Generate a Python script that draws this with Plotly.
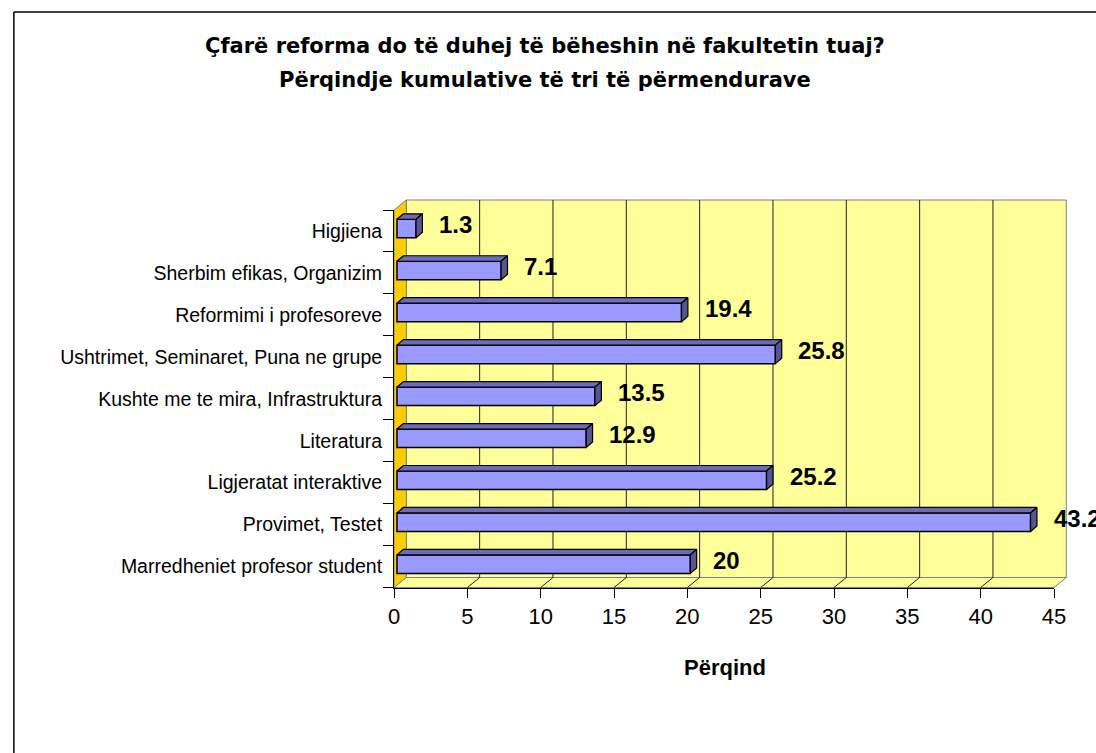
import plotly.graph_objects as go

# ---------------- data ----------------
categories = [
    "Marredheniet profesor student",
    "Provimet, Testet",
    "Ligjeratat interaktive",
    "Literatura",
    "Kushte me te mira, Infrastruktura",
    "Ushtrimet, Seminaret, Puna ne grupe",
    "Reformimi i profesoreve",
    "Sherbim efikas, Organizim",
    "Higjiena",
]
values = [20, 43.2, 25.2, 12.9, 13.5, 25.8, 19.4, 7.1, 1.3]
x_ticks = [0, 5, 10, 15, 20, 25, 30, 35, 40, 45]
title_lines = [
    "Çfarë reforma do të duhej të bëheshin në fakultetin tuaj?",
    "Përqindje kumulative të tri të përmendurave",
]
x_title = "Përqind"

# ---------------- geometry (pixels) ----------------
W, H = 1096, 753
X0, X1 = 394.5, 1065.5          # front plane: value 0 and 45
Y_TOP, Y_BOT = 210.0, 587.5     # front plane top / bottom
WDX, WDY = 12.5, 10.0           # wall depth offset
XMAX = 45
SCALE = (X1 - X0) / XMAX
NCAT = len(categories)
BAND = (Y_BOT - Y_TOP) / NCAT

BDX, BDY = 6.5, 5.5             # bar depth offset
BAR_SHIFT = 3.0 / SCALE          # bar front face shifted right
BAR_YOFF = 2.4 / BAND            # and up
BAR_W = 18.5 / BAND

FONT = "Liberation Sans, Arial, sans-serif"
BAR_COLOR = "#9999FF"
TOP_COLOR = "#6B6BB8"
SIDE_COLOR = "#55558F"


def px(x):
    return x / W


def py(y):
    return 1 - y / H


idx = list(range(NCAT))
ypos = [i + BAR_YOFF for i in idx]

fig = go.Figure()

# front faces
fig.add_trace(go.Bar(
    orientation="h", y=ypos, x=values, base=BAR_SHIFT, width=BAR_W,
    marker=dict(color=BAR_COLOR, line=dict(color="black", width=1.5)),
    hoverinfo="skip", showlegend=False,
))

# 3D top and side faces
ddx = BDX / SCALE
ddy = BDY / BAND
tx, ty, sx, sy = [], [], [], []
for v, yc in zip(values, ypos):
    x0 = BAR_SHIFT
    x1 = BAR_SHIFT + v
    yt = yc + BAR_W / 2
    yb = yc - BAR_W / 2
    tx += [x0, x1, x1 + ddx, x0 + ddx, x0, None]
    ty += [yt, yt, yt + ddy, yt + ddy, yt, None]
    sx += [x1, x1 + ddx, x1 + ddx, x1, x1, None]
    sy += [yb, yb + ddy, yt + ddy, yt, yb, None]

fig.add_trace(go.Scatter(x=tx, y=ty, mode="lines", fill="toself", fillcolor=TOP_COLOR,
                         line=dict(color="black", width=1.2), hoverinfo="skip", showlegend=False))
fig.add_trace(go.Scatter(x=sx, y=sy, mode="lines", fill="toself", fillcolor=SIDE_COLOR,
                         line=dict(color="black", width=1.2), hoverinfo="skip", showlegend=False))

# ---------------- background shapes ----------------
shapes = []
# back wall
shapes.append(dict(type="rect", xref="paper", yref="paper", layer="below",
                   x0=px(X0 + WDX), x1=px(X1 + WDX), y0=py(Y_BOT - WDY), y1=py(Y_TOP - WDY),
                   fillcolor="#FFFF99", line=dict(color="#808080", width=1)))
# left wall
shapes.append(dict(type="path", xref="paper", yref="paper", layer="below",
                   path=(f"M{px(X0)},{py(Y_TOP)} L{px(X0 + WDX)},{py(Y_TOP - WDY)} "
                         f"L{px(X0 + WDX)},{py(Y_BOT - WDY)} L{px(X0)},{py(Y_BOT)} Z"),
                   fillcolor="#FFCC00", line=dict(color="#808080", width=1)))
# floor
shapes.append(dict(type="path", xref="paper", yref="paper", layer="below",
                   path=(f"M{px(X0)},{py(Y_BOT)} L{px(X1)},{py(Y_BOT)} "
                         f"L{px(X1 + WDX)},{py(Y_BOT - WDY)} L{px(X0 + WDX)},{py(Y_BOT - WDY)} Z"),
                   fillcolor="#FFFF99", line=dict(color="#808080", width=1)))
# gridlines on back wall and floor diagonals
for t in x_ticks[1:-1]:
    xb = X0 + t * SCALE
    shapes.append(dict(type="line", xref="paper", yref="paper", layer="below",
                       x0=px(xb + WDX), x1=px(xb + WDX), y0=py(Y_BOT - WDY), y1=py(Y_TOP - WDY),
                       line=dict(color="#202020", width=1)))
    shapes.append(dict(type="line", xref="paper", yref="paper", layer="below",
                       x0=px(xb), x1=px(xb + WDX), y0=py(Y_BOT), y1=py(Y_BOT - WDY),
                       line=dict(color="#202020", width=1)))
# chart border (top and left visible)
shapes.append(dict(type="line", xref="paper", yref="paper", x0=px(8), x1=px(1110), y0=py(12), y1=py(12),
                   line=dict(color="black", width=1.5)))
shapes.append(dict(type="line", xref="paper", yref="paper", x0=px(8), x1=px(8), y0=py(12), y1=py(770),
                   line=dict(color="black", width=1.5)))

# ---------------- annotations ----------------
annotations = []
for v, yc in zip(values, ypos):
    annotations.append(dict(x=v, y=yc, xref="x", yref="y", text=f"{v:g}", showarrow=False,
                            xanchor="left", yanchor="middle", xshift=24, yshift=4,
                            font=dict(family=FONT, size=24, color="black", weight="bold")))
annotations.append(dict(x=px(548), y=py(46), xref="paper", yref="paper", text=title_lines[0],
                        showarrow=False, xanchor="center", yanchor="middle",
                        font=dict(family="DejaVu Sans, sans-serif", size=21, color="black", weight="bold")))
annotations.append(dict(x=px(548), y=py(80), xref="paper", yref="paper", text=title_lines[1],
                        showarrow=False, xanchor="center", yanchor="middle",
                        font=dict(family="DejaVu Sans, sans-serif", size=21, color="black", weight="bold")))
annotations.append(dict(x=px(731), y=py(667), xref="paper", yref="paper", text=x_title,
                        showarrow=False, xanchor="center", yanchor="middle",
                        font=dict(family=FONT, size=22, color="black", weight="bold")))

fig.update_layout(
    width=W, height=H,
    margin=dict(l=0, r=0, t=0, b=0),
    paper_bgcolor="white",
    plot_bgcolor="rgba(0,0,0,0)",
    showlegend=False,
    barmode="overlay",
    shapes=shapes,
    annotations=annotations,
    xaxis=dict(domain=[px(X0), px(X1)], range=[0, XMAX], tickvals=x_ticks,
               ticks="outside", ticklen=9, tickcolor="black", tickwidth=1,
               showline=True, linecolor="black", linewidth=1, showgrid=False, zeroline=False,
               tickfont=dict(family=FONT, size=22, color="black"), fixedrange=True),
    yaxis=dict(domain=[py(Y_BOT), py(Y_TOP)], range=[-0.5, NCAT - 0.5],
               tickvals=idx, ticktext=categories, ticks="", ticklabelstandoff=7,
               minor=dict(tickvals=[i - 0.5 for i in range(NCAT + 1)], ticks="outside",
                          ticklen=10, tickcolor="black", tickwidth=1, showgrid=False),
               showline=True, linecolor="black", linewidth=1, showgrid=False, zeroline=False,
               tickfont=dict(family=FONT, size=19.5, color="black"), fixedrange=True),
)

fig.write_html("out.html", config={"displayModeBar": False},
               post_script="document.body.style.margin='0';document.body.style.overflow='hidden';")
